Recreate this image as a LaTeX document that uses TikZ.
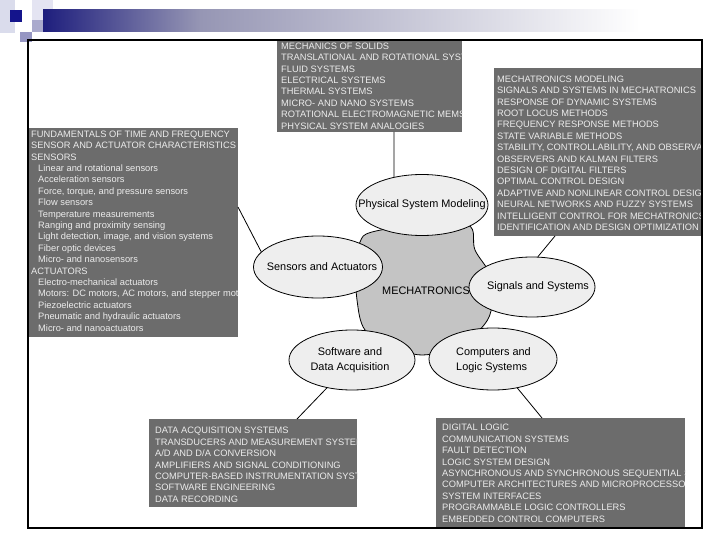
\documentclass[tikz,border=0pt]{standalone}
\usepackage{fontspec}
\setmainfont{Liberation Sans}
\usetikzlibrary{shapes.geometric}
\definecolor{boxgray}{RGB}{108,108,108}
\definecolor{boxtext}{RGB}{236,236,236}
\definecolor{ellfill}{RGB}{238,238,238}
\definecolor{blobgray}{RGB}{196,196,196}
\definecolor{hdnavy}{RGB}{30,30,125}
\definecolor{hdlav}{RGB}{150,150,180}
\definecolor{hdpale}{RGB}{218,220,236}
\definecolor{hdpale2}{RGB}{228,228,242}
\definecolor{hdmid}{RGB}{170,170,205}
\definecolor{hdmid2}{RGB}{150,150,195}
\definecolor{hddark}{RGB}{20,20,140}
\tikzset{
  infobox/.style={rectangle, fill=boxgray, draw=none, inner sep=0pt, anchor=north west},
  boxtxt/.style={anchor=north west, inner sep=0pt, align=left, text=boxtext,
     font=\fontsize{9.3}{11.4}\selectfont},
  topic/.style={ellipse, draw=black, line width=0.8pt, fill=ellfill, inner sep=0pt},
  topictxt/.style={inner sep=0pt, font=\fontsize{10.9}{15}\selectfont, align=center},
  link/.style={draw=black, line width=0.8pt}
}
\begin{document}
\begin{tikzpicture}[x=1pt,y=-1pt]
\useasboundingbox (0,0) rectangle (720,540);
% header decoration
\fill[hdpale] (0,0) rectangle (15,33);
\fill[hdpale2] (32,0) rectangle (53,12);
\fill[hdpale2] (32,12) rectangle (43,20);
\fill[hdmid] (32,20) rectangle (43,32);
\fill[hdmid2] (20,32) rectangle (32,42);
\fill[hddark] (10,10) rectangle (22,22);
\shade[left color=hdnavy, right color=hdlav] (43,10) rectangle (200,32);
\shade[left color=hdlav, right color=white] (200,10) rectangle (640,32);

% central blob
\filldraw[fill=blobgray, draw=black, line width=0.8pt] plot[smooth cycle, tension=0.6] coordinates {
 (372,232) (420,225) (468,225) (475,250) (490,275) (492,305) (484,325) (460,345)
 (422,355) (390,345) (365,330) (357,300) (356,265) (360,242)};
\node[topictxt] (mech) at (426,291) {MECHATRONICS};

% boxes
\node[infobox, minimum width=185, minimum height=92] (physbox) at (277,40) {};
\node[infobox, minimum width=208, minimum height=168] (sigbox) at (494,68) {};
\node[infobox, minimum width=210, minimum height=209] (sensbox) at (28,128) {};
\node[infobox, minimum width=208, minimum height=88] (softbox) at (149,419) {};
\node[infobox, minimum width=249, minimum height=110] (compbox) at (436,418) {};

\begin{scope}
\clip (physbox.north west) rectangle (physbox.south east);
\node[boxtxt] (phystxt) at (281,42.7) {MECHANICS OF SOLIDS\\
TRANSLATIONAL AND ROTATIONAL SYSTEMS\\
FLUID SYSTEMS\\
ELECTRICAL SYSTEMS\\
THERMAL SYSTEMS\\
MICRO- AND NANO SYSTEMS\\
ROTATIONAL ELECTROMAGNETIC MEMS\\
PHYSICAL SYSTEM ANALOGIES};
\end{scope}

\begin{scope}
\clip (sigbox.north west) rectangle (sigbox.south east);
\node[boxtxt] (sigtxt) at (497,75.7) {MECHATRONICS MODELING\\
SIGNALS AND SYSTEMS IN MECHATRONICS\\
RESPONSE OF DYNAMIC SYSTEMS\\
ROOT LOCUS METHODS\\
FREQUENCY RESPONSE METHODS\\
STATE VARIABLE METHODS\\
STABILITY, CONTROLLABILITY, AND OBSERVABILITY\\
OBSERVERS AND KALMAN FILTERS\\
DESIGN OF DIGITAL FILTERS\\
OPTIMAL CONTROL DESIGN\\
ADAPTIVE AND NONLINEAR CONTROL DESIGN\\
NEURAL NETWORKS AND FUZZY SYSTEMS\\
INTELLIGENT CONTROL FOR MECHATRONICS\\
IDENTIFICATION AND DESIGN OPTIMIZATION};
\end{scope}

\begin{scope}
\clip (sensbox.north west) rectangle (sensbox.south east);
\node[boxtxt] (senstxt) at (31,130.7) {FUNDAMENTALS OF TIME AND FREQUENCY\\
SENSOR AND ACTUATOR CHARACTERISTICS\\
SENSORS\\
\hspace*{7pt}Linear and rotational sensors\\
\hspace*{7pt}Acceleration sensors\\
\hspace*{7pt}Force, torque, and pressure sensors\\
\hspace*{7pt}Flow sensors\\
\hspace*{7pt}Temperature measurements\\
\hspace*{7pt}Ranging and proximity sensing\\
\hspace*{7pt}Light detection, image, and vision systems\\
\hspace*{7pt}Fiber optic devices\\
\hspace*{7pt}Micro- and nanosensors\\
ACTUATORS\\
\hspace*{7pt}Electro-mechanical actuators\\
\hspace*{7pt}Motors: DC motors, AC motors, and stepper motors\\
\hspace*{7pt}Piezoelectric actuators\\
\hspace*{7pt}Pneumatic and hydraulic actuators\\
\hspace*{7pt}Micro- and nanoactuators};
\end{scope}

\begin{scope}
\clip (softbox.north west) rectangle (softbox.south east);
\node[boxtxt] (softtxt) at (155,427.2) {DATA ACQUISITION SYSTEMS\\
TRANSDUCERS AND MEASUREMENT SYSTEMS\\
A/D AND D/A CONVERSION\\
AMPLIFIERS AND SIGNAL CONDITIONING\\
COMPUTER-BASED INSTRUMENTATION SYSTEMS\\
SOFTWARE ENGINEERING\\
DATA RECORDING};
\end{scope}

\begin{scope}
\clip (compbox.north west) rectangle (compbox.south east);
\node[boxtxt] (comptxt) at (442,424.2) {DIGITAL LOGIC\\
COMMUNICATION SYSTEMS\\
FAULT DETECTION\\
LOGIC SYSTEM DESIGN\\
ASYNCHRONOUS AND SYNCHRONOUS SEQUENTIAL SYSTEMS\\
COMPUTER ARCHITECTURES AND MICROPROCESSORS\\
SYSTEM INTERFACES\\
PROGRAMMABLE LOGIC CONTROLLERS\\
EMBEDDED CONTROL COMPUTERS};
\end{scope}

% topic ellipses
\node[topic, minimum width=132, minimum height=61] (phys) at (422,205) {};
\node[topic, minimum width=129, minimum height=62] (sens) at (318,267) {};
\node[topic, minimum width=126, minimum height=60] (sig) at (532,287) {};
\node[topic, minimum width=126, minimum height=60] (soft) at (352,360) {};
\node[topic, minimum width=128, minimum height=62] (comp) at (493,359) {};

\node[topictxt] (physlbl) at (422,205) {Physical System Modeling};
\node[topictxt] (senslbl) at (322,267) {Sensors and Actuators};
\node[topictxt] (siglbl) at (538,287) {Signals and Systems};
\node[topictxt] (softlbl) at (350,360.5) {Software and\\Data Acquisition};
\node[topictxt, align=left, anchor=west] (complbl) at (456,360.5) {Computers and\\Logic Systems};

% connectors
\coordinate (pE) at (394,132);
\coordinate (sE) at (238,207);
\coordinate (gE) at (555,236);
\coordinate (wE) at (297,419);
\coordinate (cE) at (542,418);
\draw[link] (phys.135) -- (pE);
\draw[link] (sens.165) -- (sE);
\draw[link] (sig.79) -- (gE);
\draw[link] (soft.228) -- (wE);
\draw[link] (comp.310) -- (cE);

% frame
\draw[line width=1.2pt] (28,40) rectangle (702,528);
\end{tikzpicture}
\end{document}
